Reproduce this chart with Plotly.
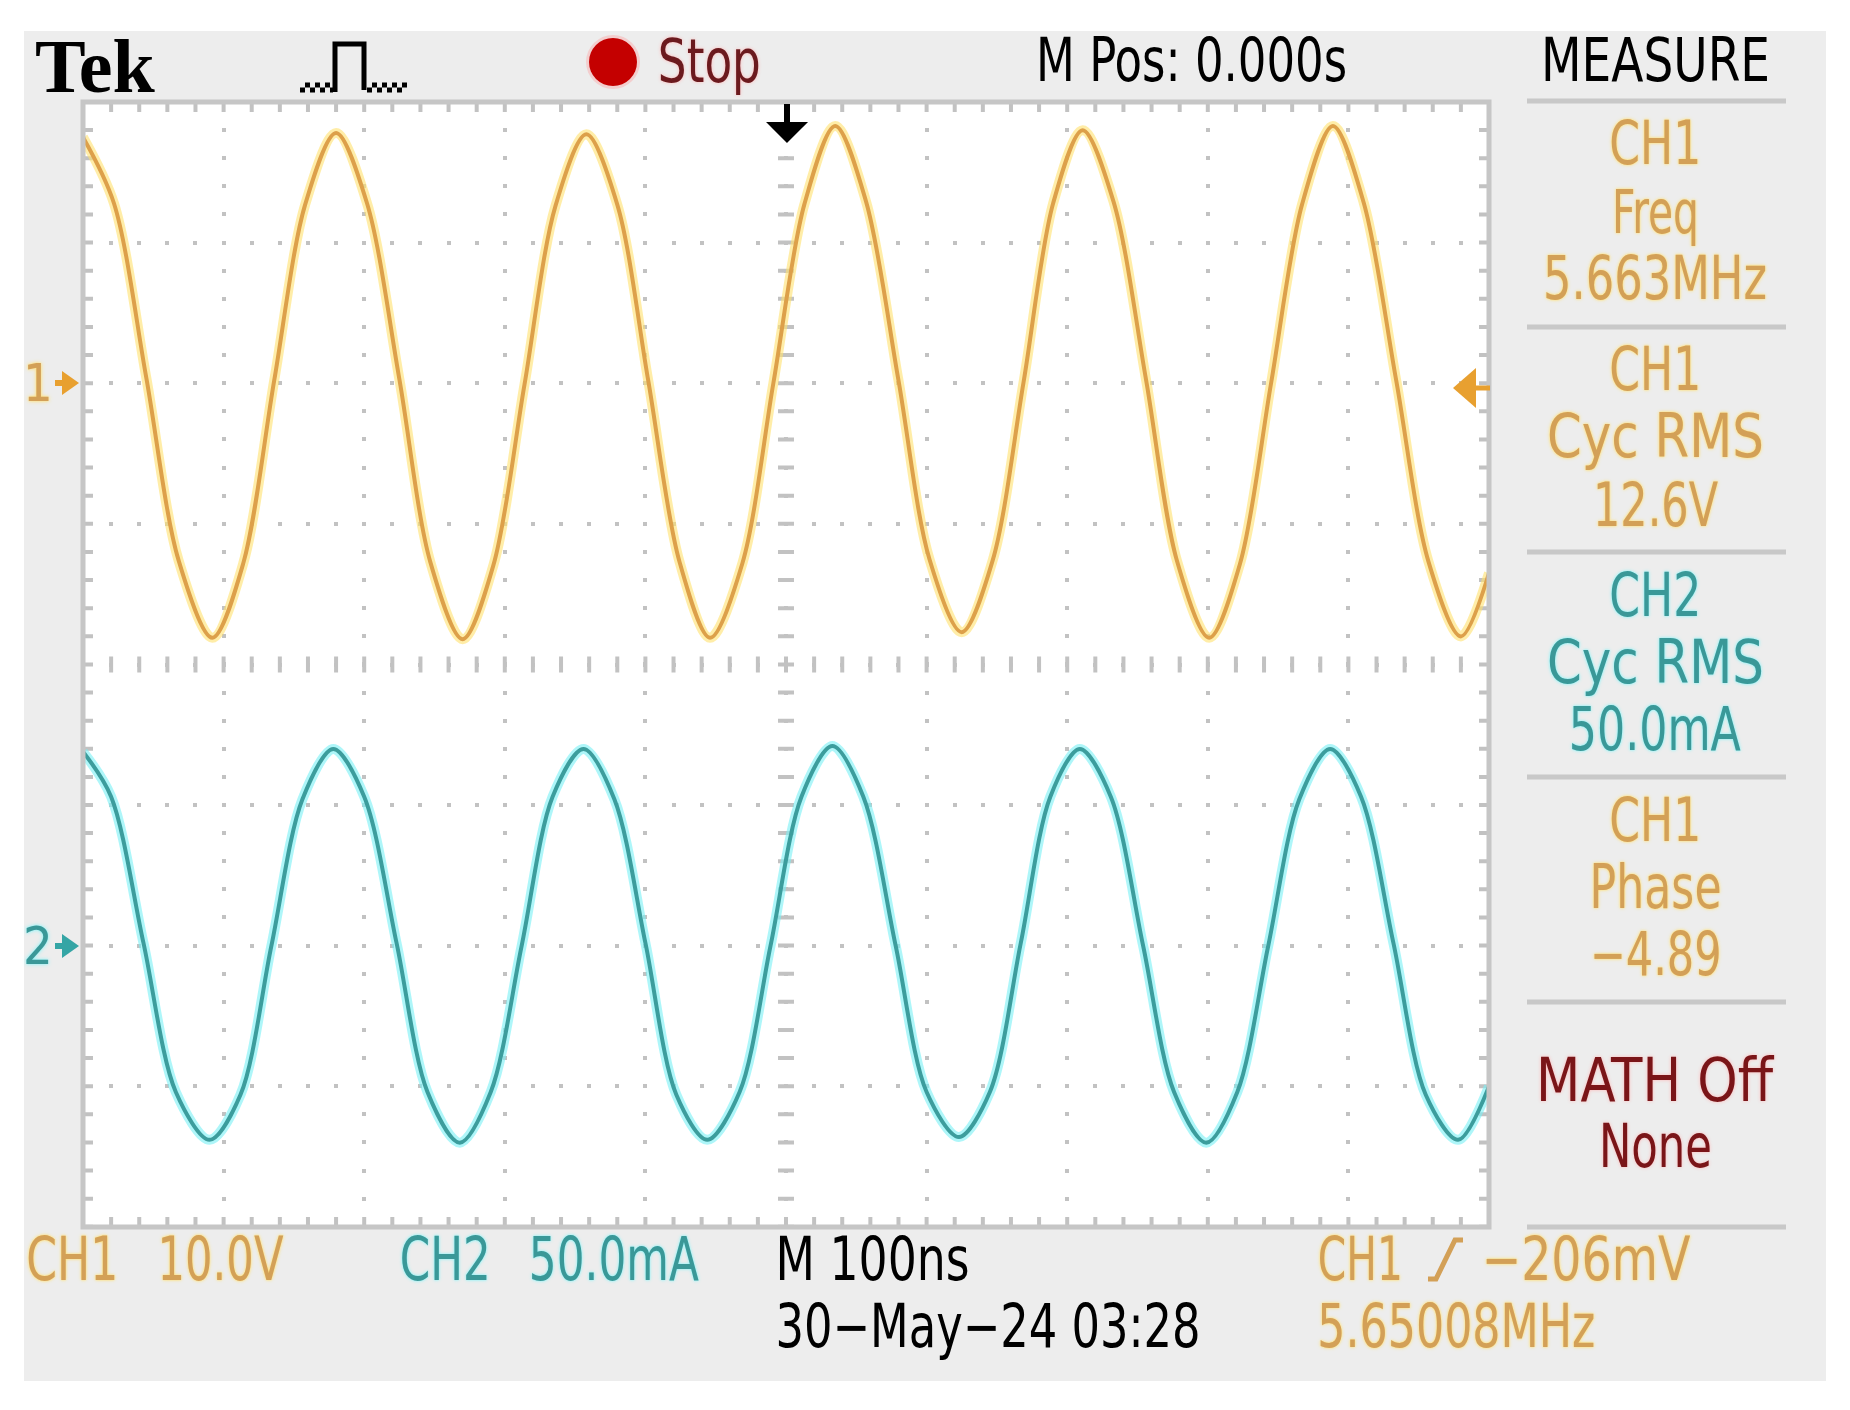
import json
import plotly.graph_objects as go

# CH1 (10.0 V/div), time in ns (100 ns/div, trigger at 0)
time_ch1_ns = [-500, -478, -455, -432, -408, -386, -364, -342, -320, -298, -275, -253,
               -230, -208, -186, -164, -142, -120, -98, -76, -54, -31, -9, 13, 35, 57,
               80, 102, 125, 147, 169, 190, 211, 233, 256, 278, 301, 323, 345, 367, 389,
               411, 434, 457, 480, 500]
ch1_volts = [17.5, 12.8, 0.4, -12.6, -18.1, -12.8, 0.2, 12.7, 17.8, 12.8, 0.3, -12.7,
             -18.2, -12.9, -0.1, 12.6, 17.7, 12.7, 0.2, -12.6, -18.1, -12.8, 0.0, 12.7,
             18.3, 12.9, 0.2, -12.5, -17.7, -12.6, 0.1, 12.8, 18.0, 12.9, 0.3, -12.6,
             -18.1, -12.8, 0.0, 12.7, 18.3, 12.8, 0.2, -12.7, -18.0, -13.5]

# CH2 (50.0 mA/div)
time_ch2_ns = [-500, -480, -457, -434, -410, -388, -366, -344, -322, -300, -277, -255,
               -232, -210, -188, -166, -144, -122, -100, -78, -56, -33, -11, 11, 33, 55,
               78, 100, 123, 145, 167, 188, 209, 231, 254, 276, 299, 321, 343, 365, 387,
               409, 432, 455, 478, 500]
ch2_milliamps = [69, 53, 1, -52, -69, -53, 0, 52, 70, 53, 1, -52, -70, -52, 0, 53, 70,
                 52, 1, -53, -69, -52, 0, 53, 71, 53, 0, -52, -68, -52, 1, 53, 70, 53,
                 0, -52, -70, -52, 0, 52, 70, 53, 1, -53, -69, -50]

# screen settings
time_range_ns = [-500, 500]
ch1_range_v = [-60, 20]        # 8 div x 10 V, ground 2 div below top
ch2_range_ma = [-100, 300]     # 8 div x 50 mA, ground 6 div below top
time_div_ns = 100
ch1_div_v = 10

# readout texts
header_texts = ["Tek", "Stop", "M Pos: 0.000s", "MEASURE"]
measure_blocks = [["CH1", "Freq", "5.663MHz"],
                  ["CH1", "Cyc RMS", "12.6V"],
                  ["CH2", "Cyc RMS", "50.0mA"],
                  ["CH1", "Phase", "\u22124.89"],
                  ["MATH Off", "None"]]
footer_ch1 = ["CH1", "10.0V"]
footer_ch2 = ["CH2", "50.0mA"]
footer_time = ["M 100ns", "30\u2212May\u221224 03:28"]
footer_trig = ["CH1", "\u2212206mV", "5.65008MHz"]
ground_labels = ["1", "2"]

# ---------------- styling / layout ----------------
FIG_W, FIG_H = 1850, 1410
L, T, W, H = 83, 102, 1406, 1125
MINOR = W / 50.0

ORANGE = "#D3A057"
ORANGE_GLOW = "0px 0px 4px #FFE07A, 0px 0px 2px #FFE890"
TEAL = "#3A9898"
TEAL_GLOW = "0px 0px 4px #8FF3F7, 0px 0px 2px #A8F6F8"
DARKRED = "#7A1518"
RED_GLOW = "0px 0px 4px #FFB8B8"
GRID = "#C2C2C2"
PANEL = "#EDEDED"
SCOPE_FONT = "Liberation Sans Narrow, Arial Narrow, DejaVu Sans Condensed, sans-serif"
DOTS = "2px,%.2fpx,2px,0px" % (MINOR - 4)


def px(x):
    return (x - L) / W


def py(y):
    return (T + H - y) / H


def path(points, close=True):
    s = "M " + " L ".join("%.5f,%.5f" % (px(x), py(y)) for x, y in points)
    return s + (" Z" if close else "")


shapes = []
annotations = []
text_widths = []   # target rendered width (px) of each annotation, None = natural


def rect(x0, y0, x1, y1, fill=None, line_color=None, line_width=0, layer="below"):
    shapes.append(dict(type="rect", xref="paper", yref="paper",
                       x0=px(x0), x1=px(x1), y0=py(y1), y1=py(y0),
                       fillcolor=fill if fill else "rgba(0,0,0,0)",
                       line=dict(color=line_color or "rgba(0,0,0,0)", width=line_width),
                       layer=layer))


def line(x0, y0, x1, y1, color, width, dash="solid", layer="below"):
    shapes.append(dict(type="line", xref="paper", yref="paper",
                       x0=px(x0), y0=py(y0), x1=px(x1), y1=py(y1),
                       line=dict(color=color, width=width, dash=dash), layer=layer))


def poly(points, fill, layer="above", close=True, color=None, width=0):
    shapes.append(dict(type="path", xref="paper", yref="paper",
                       path=path(points, close),
                       fillcolor=fill if fill else "rgba(0,0,0,0)",
                       line=dict(color=color or "rgba(0,0,0,0)", width=width),
                       layer=layer))


def text(s, x, y, color, width=None, size=60, family=SCOPE_FONT, weight="normal",
         shadow=None):
    font = dict(family=family, size=size, color=color, weight=weight)
    if shadow:
        font["shadow"] = shadow
    annotations.append(dict(text=s, x=px(x), y=py(y), xref="paper", yref="paper",
                            xanchor="center", yanchor="middle", showarrow=False,
                            font=font, borderpad=0))
    text_widths.append(width)


# panel and screen
rect(24, 31, 1826, 1381, fill=PANEL)
rect(L, T, L + W, T + H, fill="white")

# border ticks (inside the frame)
line(L, T + 5, L + W, T + 5, GRID, 10, DOTS)
line(L, T + H - 5, L + W, T + H - 5, GRID, 10, DOTS)
line(L + 5, T, L + 5, T + H, GRID, 10, DOTS)
line(L + W - 5, T, L + W - 5, T + H, GRID, 10, DOTS)
# centre axes ticks
line(L + W / 2, T, L + W / 2, T + H, GRID, 16, DOTS)
line(L, T + H / 2, L + W, T + H / 2, GRID, 16, DOTS)
# frame
rect(L, T, L + W, T + H, line_color="#C6C6C6", line_width=5, layer="above")

# right panel separators
for ysep in [101, 327, 552, 777, 1002, 1227]:
    line(1527, ysep, 1786, ysep, "#C8C8C8", 5)

# trigger position arrow (top centre)
poly([(784, 104), (790, 104), (790, 122), (808, 122), (787, 143), (766, 122), (784, 122)],
     "black")
# trigger level arrow (right, orange)
poly([(1453, 388), (1476, 368), (1476, 408)], "#E8A030")
line(1474, 388, 1490, 388, "#E8A030", 5, layer="above")
# channel ground markers
poly([(62, 371), (79, 383), (62, 395)], "#E8A030")
line(55, 383, 70, 383, "#E8A030", 6, layer="above")
poly([(62, 934), (79, 946), (62, 958)], "#35A5A5")
line(55, 946, 70, 946, "#35A5A5", 6, layer="above")

# red run/stop dot
shapes.append(dict(type="circle", xref="paper", yref="paper",
                   x0=px(586), x1=px(640), y0=py(89), y1=py(35),
                   fillcolor="rgba(255,150,150,0.35)", line=dict(width=0), layer="above"))
shapes.append(dict(type="circle", xref="paper", yref="paper",
                   x0=px(589), x1=px(637), y0=py(86), y1=py(38),
                   fillcolor="#C40000", line=dict(width=0), layer="above"))

# trigger type icon (pulse)
poly([(335, 92), (335, 44), (364, 44), (364, 90)], None, close=False, color="black",
     width=5)
line(305, 85, 333, 85, "black", 5, "5px,5px")
line(300, 90, 333, 90, "black", 5, "5px,5px")
line(372, 85, 407, 85, "black", 5, "5px,5px")
line(367, 90, 407, 90, "black", 5, "5px,5px")

# rising-edge trigger symbol
poly([(1428, 1279), (1436, 1279), (1455, 1240), (1463, 1240)], None, close=False,
     color=ORANGE, width=5)

# ---------------- texts ----------------
text(header_texts[0], 95, 66, "black", size=76,
     family="Liberation Serif, DejaVu Serif, serif", weight="bold")
text(header_texts[1], 709, 61, "#6B1A1E", width=103, shadow=RED_GLOW)
text(header_texts[2], 1191, 60, "black", width=311)
text(header_texts[3], 1655, 60, "black", width=229)

block_y = [[143.5, 211.5, 277.5], [369, 436, 505], [594.5, 661.5, 729.5],
           [820, 886.5, 954], [1079.5, 1145.5]]
block_w = [[92, 87, 224], [92, 217, 125], [92, 217, 172], [92, 132, 132], [237, 113]]
block_c = [(ORANGE, ORANGE_GLOW), (ORANGE, ORANGE_GLOW), (TEAL, TEAL_GLOW),
           (ORANGE, ORANGE_GLOW), (DARKRED, RED_GLOW)]
for lines_, ys, ws, (col, glow) in zip(measure_blocks, block_y, block_w, block_c):
    for s, yy, ww in zip(lines_, ys, ws):
        text(s, 1655, yy, col, width=ww, shadow=glow)

text(footer_ch1[0], 72, 1259, ORANGE, width=92, shadow=ORANGE_GLOW)
text(footer_ch1[1], 220, 1259, ORANGE, width=126, shadow=ORANGE_GLOW)
text(footer_ch2[0], 445, 1259, TEAL, width=91, shadow=TEAL_GLOW)
text(footer_ch2[1], 614, 1259, TEAL, width=170, shadow=TEAL_GLOW)
text(footer_time[0], 873, 1259, "black", width=194)
text(footer_time[1], 988, 1326, "black", width=425)
text(footer_trig[0], 1360, 1259, ORANGE, width=85, shadow=ORANGE_GLOW)
text(footer_trig[1], 1586, 1259, ORANGE, width=209, shadow=ORANGE_GLOW)
text(footer_trig[2], 1456, 1326, ORANGE, width=278, shadow=ORANGE_GLOW)

text(ground_labels[0], 38, 383, ORANGE, size=52, shadow=ORANGE_GLOW)
text(ground_labels[1], 38, 946, TEAL, size=52, shadow=TEAL_GLOW)

# ---------------- figure ----------------
fig = go.Figure()
fig.add_trace(go.Scatter(x=time_ch1_ns, y=ch1_volts, mode="lines", yaxis="y",
                         line=dict(color="rgba(255,225,110,0.6)", width=10, shape="spline",
                                   smoothing=0.9),
                         hoverinfo="skip", showlegend=False))
fig.add_trace(go.Scatter(x=time_ch1_ns, y=ch1_volts, mode="lines", yaxis="y", name="CH1",
                         line=dict(color="#DDA04A", width=4, shape="spline", smoothing=0.9),
                         showlegend=False))
fig.add_trace(go.Scatter(x=time_ch2_ns, y=ch2_milliamps, mode="lines", yaxis="y2",
                         line=dict(color="rgba(120,240,245,0.6)", width=10, shape="spline",
                                   smoothing=0.9),
                         hoverinfo="skip", showlegend=False))
fig.add_trace(go.Scatter(x=time_ch2_ns, y=ch2_milliamps, mode="lines", yaxis="y2",
                         name="CH2", line=dict(color="#3C9D9D", width=4, shape="spline",
                                               smoothing=0.9),
                         showlegend=False))

axis_common = dict(showgrid=True, gridcolor=GRID, gridwidth=4, griddash=DOTS,
                   showticklabels=False, ticks="", zeroline=False, showline=False,
                   fixedrange=True)
fig.update_layout(
    width=FIG_W, height=FIG_H,
    margin=dict(l=L, r=FIG_W - L - W, t=T, b=FIG_H - T - H, pad=0),
    paper_bgcolor="white", plot_bgcolor="white",
    xaxis=dict(range=time_range_ns, dtick=time_div_ns, tick0=0, **axis_common),
    yaxis=dict(range=ch1_range_v, dtick=ch1_div_v, tick0=0, **axis_common),
    yaxis2=dict(range=ch2_range_ma, overlaying="y", visible=False, fixedrange=True),
    shapes=shapes, annotations=annotations, showlegend=False,
)

# condensed scope lettering: squeeze each readout to its measured width
post = """
document.body.style.margin='0px';
document.body.style.overflow='hidden';
var widths = %s;
document.querySelectorAll('g.annotation').forEach(function(g){
  var i = +g.getAttribute('data-index');
  var w = widths[i];
  if (w) {
    var t = g.querySelector('text.annotation-text');
    if (t) { t.setAttribute('textLength', w); t.setAttribute('lengthAdjust', 'spacingAndGlyphs'); }
  }
});
""" % json.dumps(text_widths)

fig.write_html("out.html", config={"displayModeBar": False}, post_script=post)
